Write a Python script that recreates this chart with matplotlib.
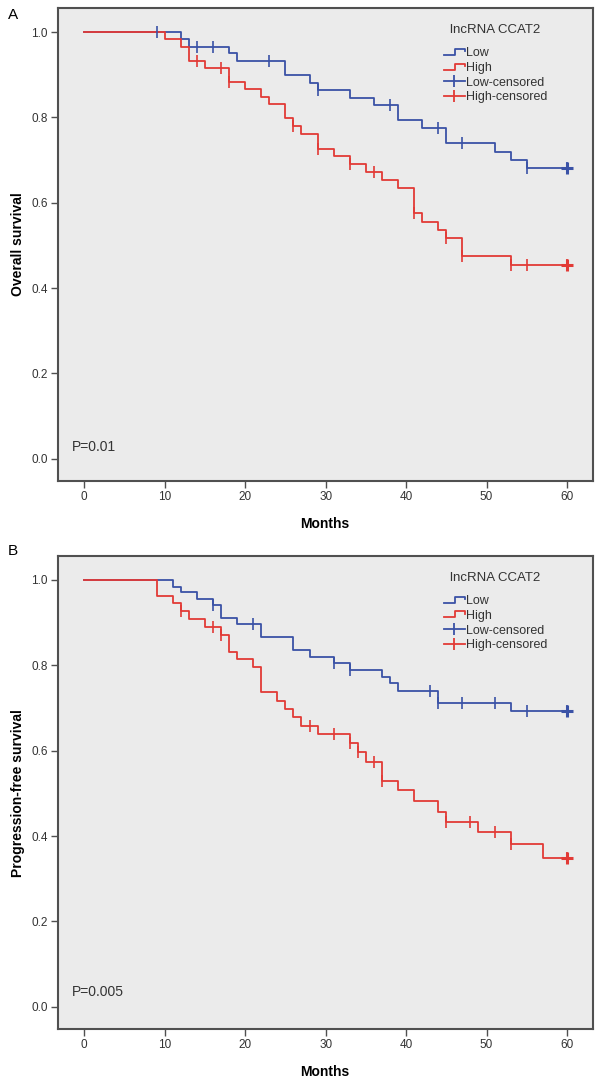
import matplotlib
matplotlib.use("Agg")
import matplotlib.pyplot as plt
from matplotlib.legend_handler import HandlerBase
from matplotlib.lines import Line2D

# ---------------- data ----------------
os_low_t = [0, 12, 13, 18, 19, 25, 28, 29, 33, 36, 39, 42, 45, 51, 53, 55, 60]
os_low_s = [1.0, 0.983, 0.966, 0.95, 0.932, 0.899, 0.881, 0.864, 0.846, 0.829,
            0.794, 0.776, 0.739, 0.72, 0.70, 0.681, 0.681]
os_low_c = [9, 14, 16, 23, 29, 38, 44, 47, 55, 60]

os_high_t = [0, 10, 12, 13, 15, 18, 20, 22, 23, 25, 26, 27, 29, 31, 33, 35, 37,
             39, 41, 42, 44, 45, 47, 53, 60]
os_high_s = [1.0, 0.983, 0.966, 0.932, 0.916, 0.884, 0.866, 0.849, 0.831, 0.798,
             0.779, 0.762, 0.726, 0.709, 0.691, 0.673, 0.653, 0.634, 0.577, 0.556,
             0.536, 0.517, 0.476, 0.454, 0.454]
os_high_c = [14, 17, 18, 26, 29, 33, 36, 41, 45, 47, 53, 55, 60]

pfs_low_t = [0, 11, 12, 14, 16, 17, 19, 22, 26, 28, 31, 33, 37, 38, 39, 44, 53, 60]
pfs_low_s = [1.0, 0.984, 0.971, 0.955, 0.941, 0.91, 0.897, 0.866, 0.836, 0.82,
             0.805, 0.789, 0.773, 0.758, 0.741, 0.711, 0.693, 0.693]
pfs_low_c = [16, 21, 31, 33, 43, 44, 47, 51, 55, 60]

pfs_high_t = [0, 9, 11, 12, 13, 15, 17, 18, 19, 21, 22, 24, 25, 26, 27, 29, 33,
              34, 35, 37, 39, 41, 44, 45, 49, 53, 57, 60]
pfs_high_s = [1.0, 0.963, 0.946, 0.927, 0.909, 0.891, 0.872, 0.832, 0.815, 0.796,
              0.737, 0.717, 0.698, 0.679, 0.659, 0.639, 0.619, 0.598, 0.574, 0.53,
              0.507, 0.482, 0.457, 0.434, 0.41, 0.381, 0.348, 0.348]
pfs_high_c = [12, 16, 17, 28, 31, 33, 34, 36, 37, 45, 48, 51, 53, 60]

group_labels = ["Low", "High", "Low-censored", "High-censored"]
legend_title = "lncRNA CCAT2"
x_ticks = [0, 10, 20, 30, 40, 50, 60]
y_ticks = [0.0, 0.2, 0.4, 0.6, 0.8, 1.0]
panels = ["A", "B"]
y_labels = ["Overall survival", "Progression-free survival"]
p_texts = ["P=0.01", "P=0.005"]

BLUE = "#3a52a6"
RED = "#e23a36"
BG = "#ebebeb"
SPINE = "#505050"
SANS = ["Liberation Sans", "DejaVu Sans"]
NARROW = ["Liberation Sans Narrow", "Liberation Sans", "DejaVu Sans"]


def surv_at(t_list, s_list, t):
    val = s_list[0]
    for ti, si in zip(t_list, s_list):
        if ti <= t:
            val = si
    return val


class StepHandler(HandlerBase):
    def create_artists(self, legend, orig_handle, xdescent, ydescent,
                       width, height, fontsize, trans):
        w, h = width, height
        xs = [-xdescent, -xdescent + 0.55 * w, -xdescent + 0.55 * w, -xdescent + w, -xdescent + w]
        ys = [-ydescent + 0.15 * h, -ydescent + 0.15 * h, -ydescent + 0.85 * h,
              -ydescent + 0.85 * h, -ydescent + 0.55 * h]
        ln = Line2D(xs, ys, color=orig_handle.get_color(), lw=1.3, transform=trans)
        return [ln]


fig = plt.figure(figsize=(6.0, 10.84), dpi=100)
axes_rects = [[0.0962, 0.5563, 0.8917, 0.4361], [0.0962, 0.0507, 0.8917, 0.4363]]
datasets = [
    (os_low_t, os_low_s, os_low_c, os_high_t, os_high_s, os_high_c),
    (pfs_low_t, pfs_low_s, pfs_low_c, pfs_high_t, pfs_high_s, pfs_high_c),
]
p_ypos = [0.028, 0.034]

for i, rect in enumerate(axes_rects):
    ax = fig.add_axes(rect)
    ax.set_facecolor(BG)
    lt, ls, lc, ht, hs, hc = datasets[i]
    ax.plot(lt, ls, drawstyle="steps-post", color=BLUE, lw=1.3, zorder=3)
    ax.plot(ht, hs, drawstyle="steps-post", color=RED, lw=1.3, zorder=3)
    ax.plot(lc, [surv_at(lt, ls, t) for t in lc], lw=0, marker="|",
            ms=8, mew=1.2, color=BLUE, zorder=4)
    ax.plot(hc, [surv_at(ht, hs, t) for t in hc], lw=0, marker="|",
            ms=8, mew=1.2, color=RED, zorder=4)
    # bolder final censor marks
    ax.plot([lc[-1]], [surv_at(lt, ls, lc[-1])], marker="+", ms=8, mew=2.2, color=BLUE, zorder=5)
    ax.plot([hc[-1]], [surv_at(ht, hs, hc[-1])], marker="+", ms=8, mew=2.2, color=RED, zorder=5)

    ax.set_xlim(-3.3, 63.2)
    ax.set_ylim(-0.052, 1.056)
    ax.set_xticks(x_ticks)
    ax.set_yticks(y_ticks)
    ax.set_xticklabels([str(v) for v in x_ticks], fontsize=8.5, family=NARROW, color="#333333")
    ax.set_yticklabels(["%.1f" % v for v in y_ticks], fontsize=8.5, family=NARROW, color="#333333")
    ax.tick_params(direction="out", length=5, width=1.0, color=SPINE, pad=2)
    for sp in ax.spines.values():
        sp.set_color(SPINE)
        sp.set_linewidth(1.5)

    ax.set_xlabel("Months", fontsize=10, fontweight="bold", family=SANS, labelpad=10)
    ax.set_ylabel(y_labels[i], fontsize=10, fontweight="bold", family=SANS, labelpad=5)
    ax.text(-1.5, p_ypos[i], p_texts[i], fontsize=10, family=SANS,
            color="#333333", va="center", ha="left")

    # legend
    lh1 = Line2D([], [], color=BLUE)
    lh2 = Line2D([], [], color=RED)
    lh3 = Line2D([0, 1], [0, 0], color=BLUE, lw=1.3, marker="|", ms=8, mew=1.3)
    lh4 = Line2D([0, 1], [0, 0], color=RED, lw=1.3, marker="|", ms=8, mew=1.3)
    leg = ax.legend([lh1, lh2, lh3, lh4], group_labels, title=legend_title,
                    handler_map={lh1: StepHandler(), lh2: StepHandler()},
                    loc="upper left", bbox_to_anchor=(0.705, 0.985), frameon=False,
                    title_fontsize=9.5, labelspacing=0.22,
                    handlelength=1.7, handletextpad=0.1, borderpad=0.2,
                    prop={"family": SANS, "size": 9}, markerscale=1.0)
    leg.get_title().set_family(SANS)
    leg.get_title().set_color("#333333")
    leg._legend_box.sep = 8
    for t in leg.get_texts():
        t.set_color("#333333")

    fig.text(0.013, 1 - (15 if i == 0 else 551) / 1084, panels[i], fontsize=11,
             family=SANS, va="center", ha="left")

fig.savefig("out.png", dpi=100)
